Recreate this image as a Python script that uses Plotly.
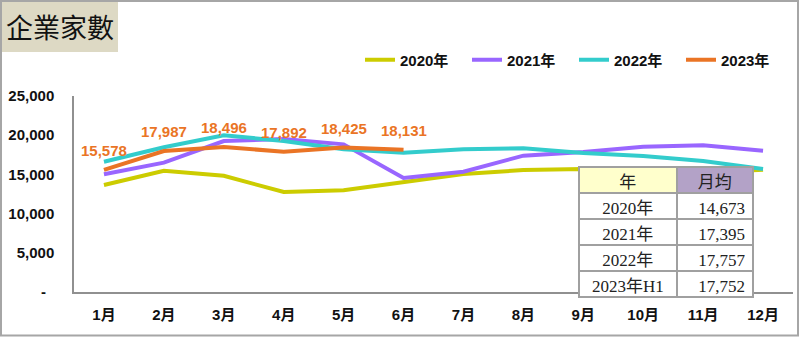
import plotly.graph_objects as go

months = ["1月", "2月", "3月", "4月", "5月", "6月", "7月", "8月", "9月", "10月", "11月", "12月"]
y2020 = [13650, 15470, 14830, 12750, 12970, 14000, 15050, 15560, 15700, 15300, 15200, 15600]
y2021 = [15010, 16500, 19260, 19500, 18830, 14540, 15350, 17390, 17860, 18540, 18710, 18020]
y2022 = [16620, 18460, 19990, 19260, 18200, 17770, 18200, 18330, 17730, 17350, 16710, 15690]
y2023 = [15578, 17987, 18496, 17892, 18425, 18131]

series_names = ["2020年", "2021年", "2022年", "2023年"]
series_colors = ["#cccc00", "#9966ff", "#33cccc", "#ea7425"]

ytick_vals = [0, 5000, 10000, 15000, 20000, 25000]
ytick_text = ["-\u00a0\u00a0", "5,000", "10,000", "15,000", "20,000", "25,000"]

table_years = ["2020年", "2021年", "2022年", "2023年H1"]
table_avgs = ["14,673", "17,395", "17,757", "17,752"]
table_header = ["年", "月均"]

title_text = "企業家數"

W, H = 800, 337
FONT = "Liberation Sans, Arial, Noto Sans CJK TC, sans-serif"

def px_x(x):
    return x / W

def px_y(y):
    return 1 - y / H

fig = go.Figure()
for name, ys, col in zip(series_names, [y2020, y2021, y2022, y2023], series_colors):
    fig.add_trace(go.Scatter(
        x=months[:len(ys)], y=ys, name=name, mode="lines",
        line=dict(color=col, width=4), hoverinfo="skip",
        xaxis="x", yaxis="y",
    ))

for m, v in zip(months, y2023):
    fig.add_annotation(
        x=m, y=v, xref="x", yref="y", text=f"{v:,}", showarrow=False,
        xanchor="center", yanchor="middle",
        yshift=19, font=dict(family=FONT, size=15, color="#ea7425", weight="bold"),
    )

fig.add_trace(go.Table(
    domain=dict(x=[px_x(579), px_x(753)], y=[0, px_y(167)]),
    columnwidth=[97, 76],
    header=dict(
        values=table_header,
        fill_color=["#ffffcc", "#b3a2c7"],
        line=dict(color="#a0a0a0", width=2),
        align=["center", "center"],
        height=26,
        font=dict(family="Liberation Serif, Noto Sans CJK TC, serif", size=17, color="#222"),
    ),
    cells=dict(
        values=[table_years, table_avgs],
        fill_color="white",
        line=dict(color="#a0a0a0", width=2),
        align=["center", "right"],
        height=26,
        font=dict(family="Liberation Serif, Noto Sans CJK TC, serif", size=17, color="#222"),
    ),
))

# title box
fig.add_shape(type="rect", xref="paper", yref="paper",
              x0=px_x(2), x1=px_x(118), y0=px_y(52), y1=px_y(2),
              fillcolor="#ddd9c4", line=dict(width=0), layer="below")
fig.add_annotation(xref="paper", yref="paper", x=px_x(60), y=px_y(27),
                   xanchor="center", yanchor="middle",
                   text=title_text, showarrow=False,
                   font=dict(family="Noto Sans CJK TC", size=27, color="#111"))
# outer border
fig.add_shape(type="rect", xref="paper", yref="paper",
              x0=px_x(1), x1=px_x(798), y0=px_y(335.5), y1=px_y(1),
              fillcolor="rgba(0,0,0,0)", line=dict(color="#a6a6a6", width=2))

fig.update_layout(
    width=W, height=H,
    margin=dict(l=0, r=0, t=0, b=0, autoexpand=False),
    paper_bgcolor="white", plot_bgcolor="white",
    font=dict(family=FONT, size=15, color="#111"),
    showlegend=True,
    legend=dict(
        orientation="h", x=px_x(360), y=px_y(60), xanchor="left", yanchor="middle",
        font=dict(family=FONT, size=15, color="#111", weight="bold"),
        entrywidth=62, bgcolor="rgba(0,0,0,0)",
    ),
    xaxis=dict(
        domain=[px_x(74), px_x(793)], range=[-0.5, 11.5],
        type="category", categoryorder="array", categoryarray=months,
        showline=True, linecolor="#909090", linewidth=1.5,
        showgrid=False, zeroline=False, ticks="",
        tickfont=dict(family=FONT, size=15, color="#111", weight="bold"),
        ticklabelstandoff=8,
    ),
    yaxis=dict(
        domain=[px_y(292), px_y(96)], range=[0, 25000],
        tickvals=ytick_vals, ticktext=ytick_text,
        showline=True, linecolor="#909090", linewidth=1.5,
        showgrid=False, zeroline=False, ticks="",
        tickfont=dict(family=FONT, size=15, color="#111", weight="bold"),
        ticklabelstandoff=15,
    ),
)

fig.write_html("out.html")
